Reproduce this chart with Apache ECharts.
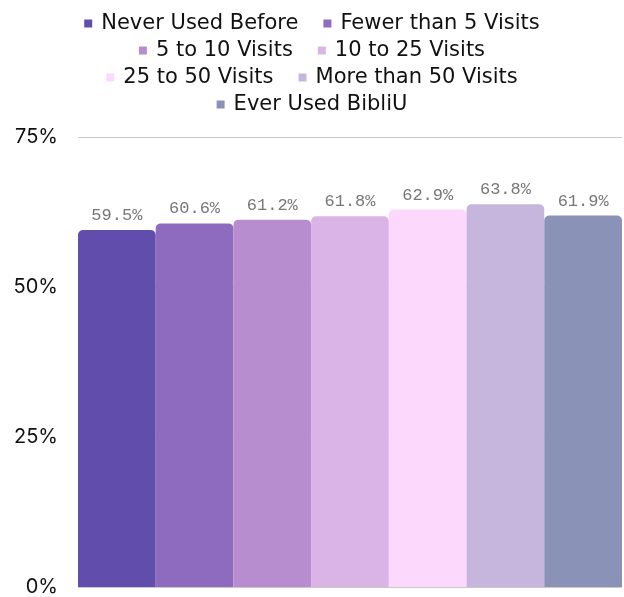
<!DOCTYPE html>
<html><head><meta charset="utf-8">
<script src="https://cdn.jsdelivr.net/npm/echarts@6/dist/echarts.min.js"></script>
<style>html,body{margin:0;padding:0;background:#fff}#c{width:624px;height:597px}</style>
</head><body><div id="c"></div>
<script>
const seriesNames = ["Never Used Before","Fewer than 5 Visits","5 to 10 Visits","10 to 25 Visits","25 to 50 Visits","More than 50 Visits","Ever Used BibliU"];
const values = [59.5, 60.6, 61.2, 61.8, 62.9, 63.8, 61.9];
const colors = ["#604dac","#8f6bbf","#b78dd0","#dab4e6","#fdd8fd","#c6b5dc","#8a92b7"];
const yTicks = [0, 25, 50, 75];
const legendRows = [[0,1],[2,3],[4,5],[6]];

const chart = echarts.init(document.getElementById('c'));
const rowCenters = [23, 50, 77, 104];
chart.setOption({
  animation:false,
  legend: legendRows.map((r,k)=>({
    data: r.map(i=>seriesNames[i]),
    left:'center', top:rowCenters[k]-10, padding:0,
    itemWidth:8, itemHeight:8, itemGap:25,
    icon:'rect',
    textStyle:{fontFamily:'DejaVu Sans', fontSize:21, color:'#111', padding:[0,0,0,4]}
  })),
  grid:{left:78, right:2, top:137, bottom:7},
  xAxis:{type:'category', data:[''], axisLine:{show:false}, axisTick:{show:false}, axisLabel:{show:false}},
  yAxis:{type:'value', min:yTicks[0], max:yTicks[yTicks.length-1], interval:25,
    axisLabel:{formatter:v=>v+'%', fontFamily:'Inter', fontSize:20, color:'#111', margin:20},
    splitLine:{lineStyle:{color:'#c8c8c8'}}, axisLine:{show:false}, axisTick:{show:false}},
  series: seriesNames.map((n,i)=>({
    name:n, type:'bar', data:[values[i]], barGap:'0%', barCategoryGap:'0%',
    itemStyle:{color:colors[i], borderRadius:[5,5,0,0]},
    label:{show:true, position:'top', formatter:p=>p.value.toFixed(1)+'%', fontFamily:'Liberation Mono', fontSize:17, color:'#777', distance:6}
  }))
});
</script></body></html>
